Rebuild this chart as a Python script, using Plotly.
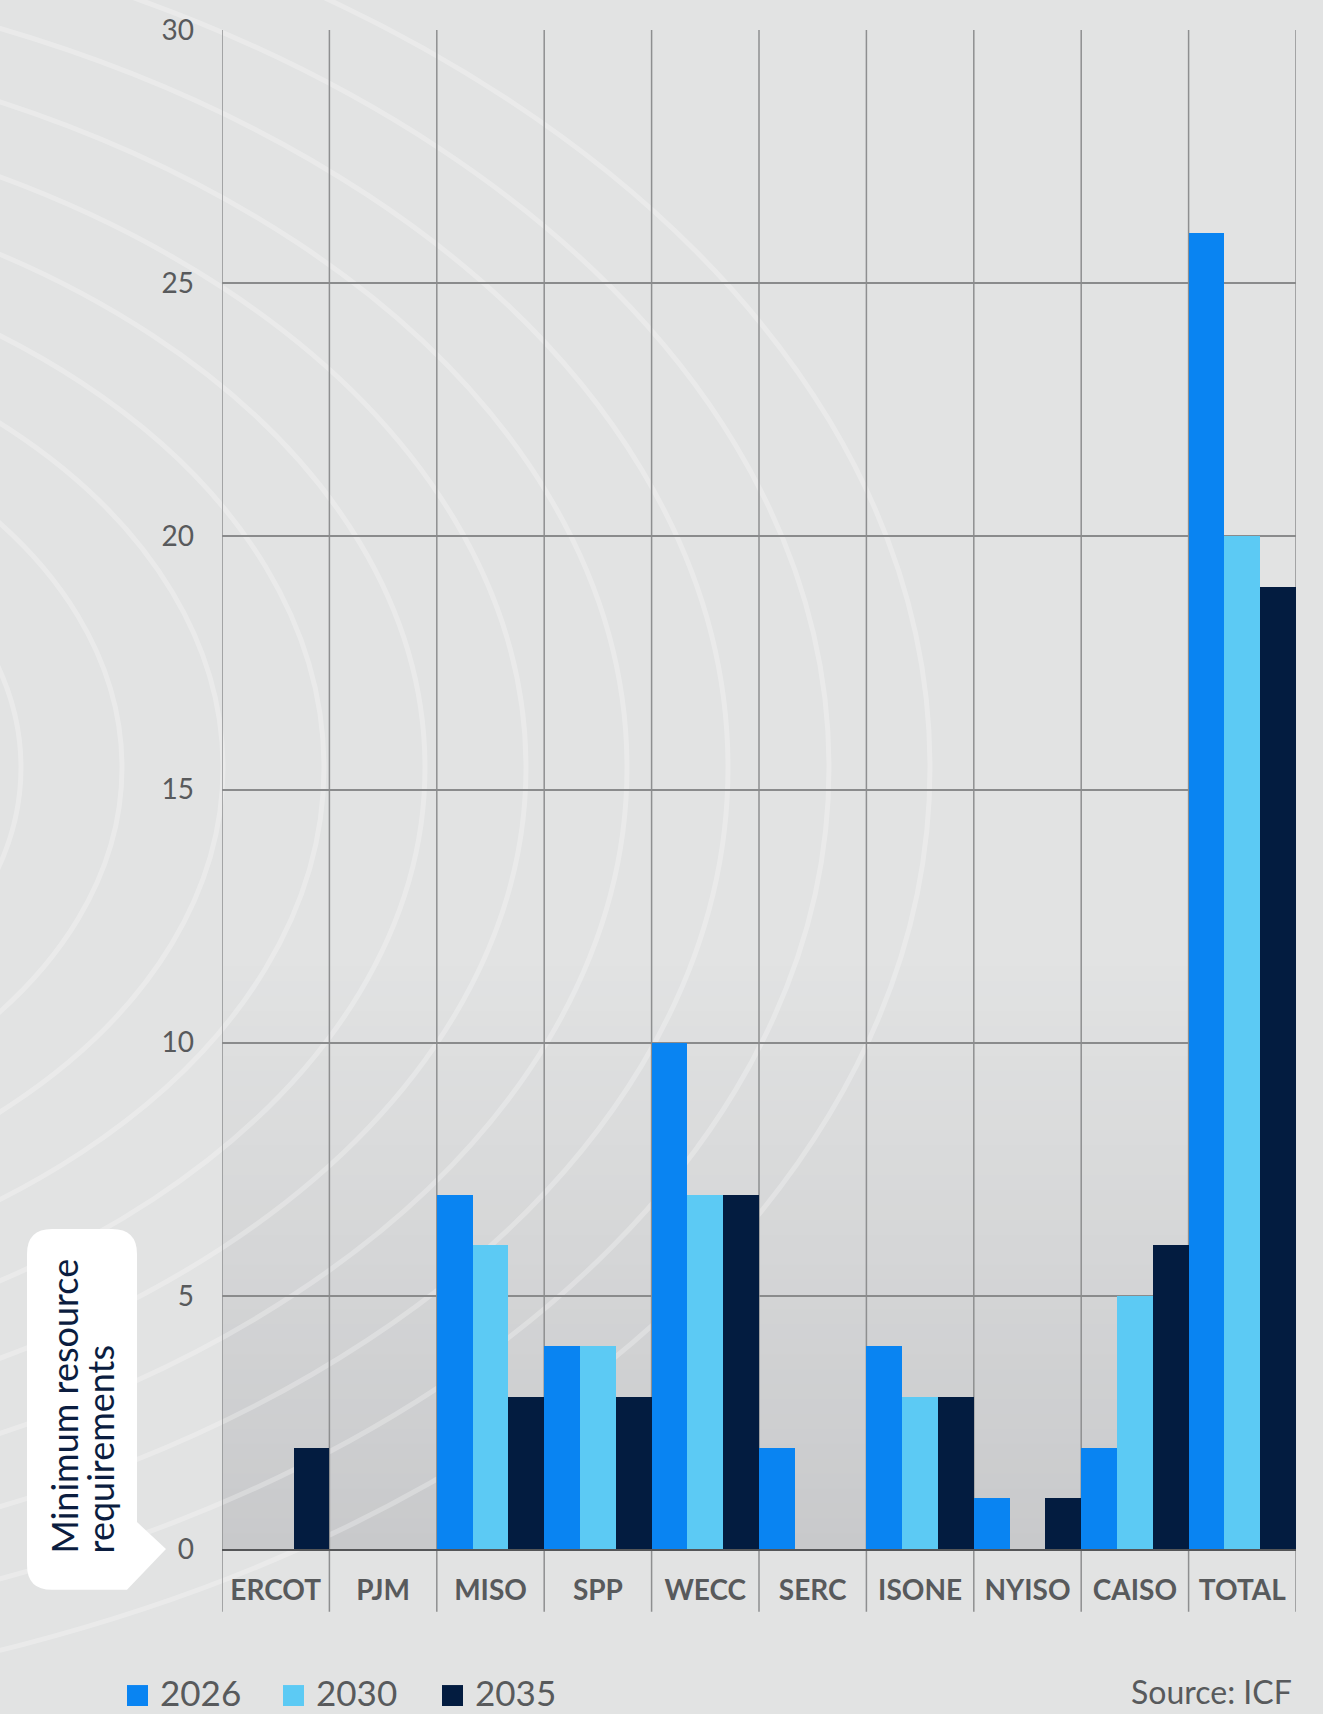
import plotly.graph_objects as go

# ---------------- data ----------------
regions = ["ERCOT", "PJM", "MISO", "SPP", "WECC", "SERC", "ISONE", "NYISO", "CAISO", "TOTAL"]
series_names = ["2026", "2030", "2035"]
values_2026 = [0, 0, 7, 4, 10, 2, 4, 1, 2, 26]
values_2030 = [0, 0, 6, 4, 7, 0, 3, 0, 5, 20]
values_2035 = [2, 0, 3, 3, 7, 0, 3, 1, 6, 19]
y_ticks = [0, 5, 10, 15, 20, 25, 30]
y_title_lines = ["Minimum resource", "requirements"]
source_text = "Source: ICF"

# ---------------- style ----------------
colors = ["#0984f2", "#5ccaf4", "#031c40"]
W_FIG, H_FIG = 1323, 1714
L, R, T, B = 222, 1296, 25, 1549
PW, PH = R - L, B - T
BG = "#e2e3e3"
TXT = "#585a5c"
NAVY = "#0b1d3f"


def px(x):
    return (x - L) / PW


def py(y):
    return (B - y) / PH


fig = go.Figure()
for name, vals, col in zip(series_names, [values_2026, values_2030, values_2035], colors):
    fig.add_trace(go.Bar(x=regions, y=vals, name=name, marker_color=col,
                         marker_line_width=0, showlegend=False))

shapes = []
# gradient inside plot area (lower part)
g_top, g_bot = 950, B
n = 40
c0 = (226, 227, 227)
c1 = (200, 201, 203)
for i in range(n):
    ya = g_top + (g_bot - g_top) * i / n
    yb = g_top + (g_bot - g_top) * (i + 1) / n
    t = (i + 0.5) / n
    c = tuple(round(c0[k] + (c1[k] - c0[k]) * t) for k in range(3))
    shapes.append(dict(type="rect", xref="paper", yref="paper", x0=0, x1=1,
                       y0=py(yb), y1=py(ya) + 0.0005, line_width=0,
                       fillcolor="rgb(%d,%d,%d)" % c, layer="below"))

# decorative concentric arcs
cx, cy = -503, 765
for k in range(10):
    a = 524 + 101 * k
    b = 0.66 * a
    shapes.append(dict(type="circle", xref="paper", yref="paper",
                       x0=px(cx - a), x1=px(cx + a), y0=py(cy + b), y1=py(cy - b),
                       line=dict(color="rgba(255,255,255,0.27)", width=5),
                       fillcolor="rgba(0,0,0,0)", layer="below"))

# vertical category separators extending below the axis
for i in range(len(regions) + 1):
    shapes.append(dict(type="line", xref="x", yref="paper", x0=i - 0.5, x1=i - 0.5,
                       y0=py(1612), y1=1, line=dict(color="#8e8f90", width=1.5),
                       layer="below"))


# y-title callout box
def P(x, y):
    return "%.5f,%.5f" % (px(x), py(y))


bx0, bx1, by0, by1, r = 27, 137, 1228, 1590, 25
path = ("M" + P(bx0 + r, by0) + " L" + P(bx1 - r, by0) + " Q" + P(bx1, by0) + " " + P(bx1, by0 + r)
        + " L" + P(bx1, 1522) + " L" + P(166, 1549) + " L" + P(127, by1)
        + " L" + P(bx0 + r, by1) + " Q" + P(bx0, by1) + " " + P(bx0, by1 - r)
        + " L" + P(bx0, by0 + r) + " Q" + P(bx0, by0) + " " + P(bx0 + r, by0) + " Z")
shapes.append(dict(type="path", xref="paper", yref="paper", path=path,
                   fillcolor="#ffffff", line_width=0, layer="above"))

annotations = []
annotations.append(dict(text=y_title_lines[0], textangle=-90, x=px(64), y=py(1556),
                        xref="paper", yref="paper", xanchor="center", yanchor="bottom",
                        showarrow=False, font=dict(family="Lato", size=36, color=NAVY)))
annotations.append(dict(text=y_title_lines[1], textangle=-90, x=px(100), y=py(1556),
                        xref="paper", yref="paper", xanchor="center", yanchor="bottom",
                        showarrow=False, font=dict(family="Lato", size=36, color=NAVY)))

# legend (manual)
leg_sq_x = [127, 283, 442]
leg_cy = 1696
for name, col, sx in zip(series_names, colors, leg_sq_x):
    shapes.append(dict(type="rect", xref="paper", yref="paper",
                       x0=px(sx), x1=px(sx + 21), y0=py(leg_cy + 10.5), y1=py(leg_cy - 10.5),
                       fillcolor=col, line_width=0, layer="above"))
    annotations.append(dict(text=name, x=px(sx + 31), y=py(leg_cy - 4), xref="paper", yref="paper",
                            xanchor="left", yanchor="middle", showarrow=False,
                            font=dict(family="Lato", size=35, color=TXT)))

annotations.append(dict(text=source_text, x=px(1294), y=py(1692), xref="paper", yref="paper",
                        xanchor="right", yanchor="middle", showarrow=False,
                        font=dict(family="Lato", size=32, color=TXT)))

fig.update_layout(
    width=W_FIG, height=H_FIG,
    margin=dict(l=L, r=W_FIG - R, t=T, b=H_FIG - B, pad=0),
    paper_bgcolor=BG, plot_bgcolor="rgba(0,0,0,0)",
    barmode="group", bargap=0, bargroupgap=0,
    showlegend=False,
    shapes=shapes, annotations=annotations,
    xaxis=dict(range=[-0.5, len(regions) - 0.5], showgrid=False, zeroline=False,
               showline=True, linecolor="#555658", linewidth=2,
               ticks="", ticklabelstandoff=15,
               tickfont=dict(family="Lato", size=28, color=TXT, weight="bold")),
    yaxis=dict(range=[0, 30], tickvals=y_ticks, showgrid=True, gridcolor="#8a8b8c",
               gridwidth=1.5, zeroline=False, showline=False, ticks="",
               ticklabelstandoff=27,
               tickfont=dict(family="Lato", size=28, color=TXT)),
)

fig.write_html("out.html")
